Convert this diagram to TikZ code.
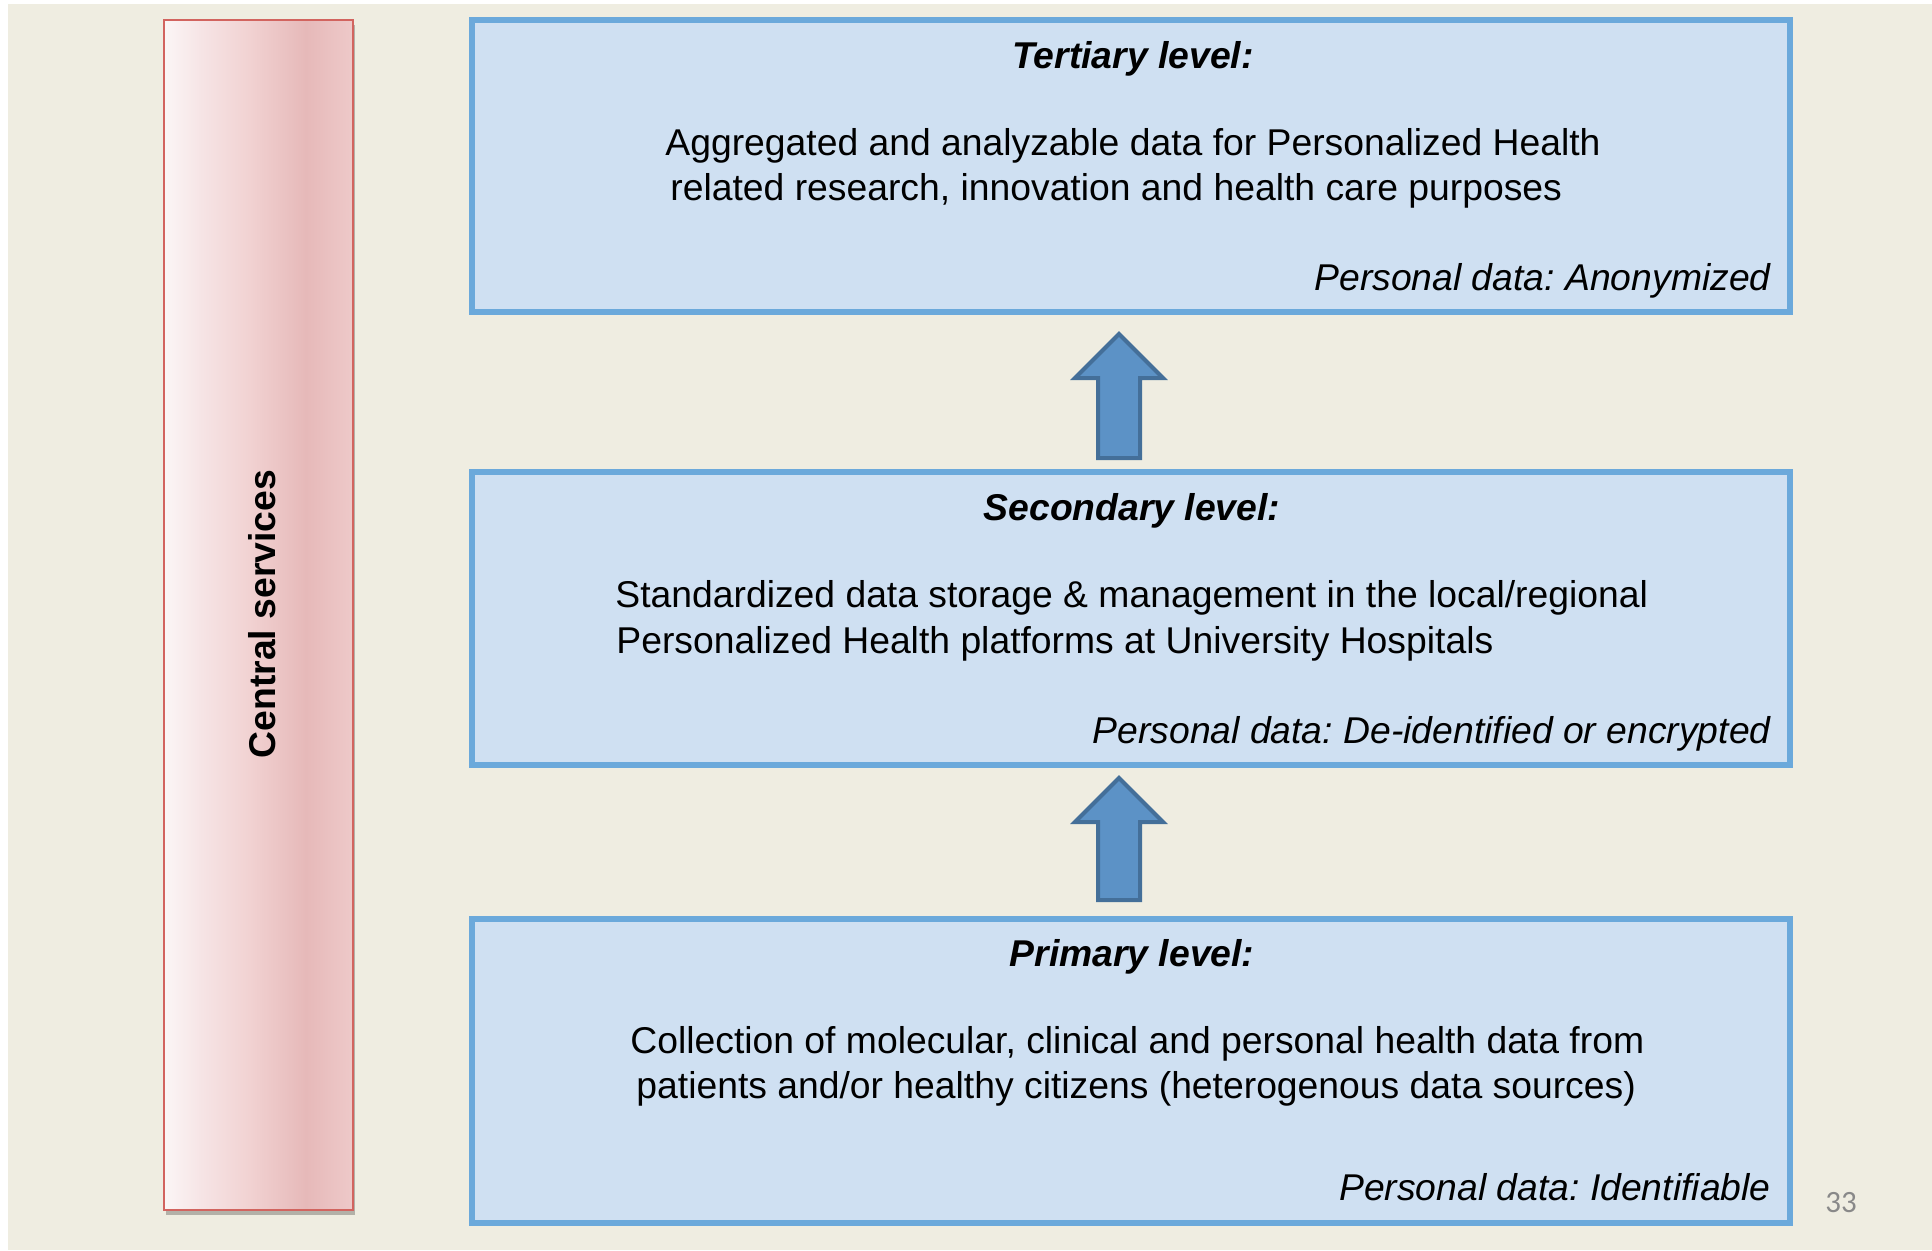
\documentclass[tikz,border=0pt]{standalone}
\usepackage{fontspec}
\setmainfont{Liberation Sans}
\newfontfamily\numfont{Carlito}
\usetikzlibrary{calc,shadows}
\frenchspacing

\definecolor{bgcream}{RGB}{239,237,225}
\definecolor{boxfill}{RGB}{207,224,242}
\definecolor{boxline}{RGB}{107,169,219}
\definecolor{arrowfill}{RGB}{92,146,198}
\definecolor{arrowline}{RGB}{68,111,153}
\definecolor{redline}{RGB}{210,100,95}
\definecolor{redA}{RGB}{251,246,246}
\definecolor{redB}{RGB}{246,228,229}
\definecolor{redC}{RGB}{241,210,210}
\definecolor{redD}{RGB}{230,185,185}
\definecolor{redE}{RGB}{238,201,201}
\definecolor{numgray}{RGB}{137,137,137}

% tikz fits the path into the middle 50bp of the shading
\pgfdeclarehorizontalshading{centralshade}{100bp}{color(0bp)=(redA); color(25bp)=(redA); color(35bp)=(redB); color(47.5bp)=(redC); color(62.5bp)=(redD); color(75bp)=(redE); color(100bp)=(redE)}

\tikzset{
	levelbox/.style={draw=boxline, fill=boxfill, line width=3pt, inner sep=0pt, minimum width=659pt},
	centralbox/.style={draw=redline, line width=0.8pt, shading=centralshade, inner sep=0pt,
		minimum width=94.5pt, minimum height=595pt,
		drop shadow={shadow xshift=1.2pt, shadow yshift=-2.5pt, fill=black, opacity=0.25}},
	bodytext/.style={font=\fontsize{18.65}{22.5}\selectfont, inner sep=0pt, anchor=base west},
	titletext/.style={font=\fontsize{18.65}{22.5}\selectfont\bfseries\itshape, inner sep=0pt, anchor=base},
	notetext/.style={font=\fontsize{18.65}{22.5}\selectfont\itshape, inner sep=0pt, anchor=base east},
	sidetext/.style={font=\fontsize{18.65}{22.5}\selectfont\bfseries, inner sep=0pt, anchor=base, rotate=90},
	pagenum/.style={font=\numfont\fontsize{15.5}{18}\selectfont, text=numgray, inner sep=0pt, anchor=base},
	blockarrow/.style={draw=arrowline, fill=arrowfill, line width=2pt, miter limit=10}
}

\newcommand{\upblock}[2]{%
	\draw[blockarrow] ($(#1)+(-21,0)$) -- ($(#2)+(-21,44)$) -- ($(#2)+(-44,44)$) -- (#2)
		-- ($(#2)+(44,44)$) -- ($(#2)+(21,44)$) -- ($(#1)+(21,0)$) -- cycle;}

\begin{document}
\begin{tikzpicture}[x=0.5pt,y=-0.5pt]
			\useasboundingbox (0,0) rectangle (1932,1250);
			\fill[white] (0,0) rectangle (1932,1250);
			\fill[bgcream] (8,4) rectangle (1932,1250);

			\node[centralbox] (central) at (258.5,615) {};
			\node[sidetext] (centraltext) at (275,614) {Central services};

			\node[levelbox, minimum height=146pt] (tert) at (1131,166) {};
			\node[levelbox, minimum height=146.5pt] (sec) at (1131,618.5) {};
			\node[levelbox, minimum height=152pt] (prim) at (1131,1071) {};

			\node[titletext] (terttitle) at (1133,68) {Tertiary level:};
			\node[bodytext] (tertA) at (665,155) {Aggregated and analyzable data for Personalized Health};
			\node[bodytext] (tertB) at (670,200) {related research, innovation and health care purposes};
			\node[notetext] (tertnote) at (1771,290) {Personal data: Anonymized};

			\node[titletext] (sectitle) at (1132,520) {Secondary level:};
			\node[bodytext] (secA) at (615,607) {Standardized data storage \& management in the local/regional};
			\node[bodytext] (secB) at (616,653) {Personalized Health platforms at University Hospitals};
			\node[notetext] (secnote) at (1771,743) {Personal data: De-identified or encrypted};

			\node[titletext] (primtitle) at (1132,966) {Primary level:};
			\node[bodytext] (primA) at (630,1053) {Collection of molecular, clinical and personal health data from};
			\node[bodytext] (primB) at (636,1098) {patients and/or healthy citizens (heterogenous data sources)};
			\node[notetext] (primnote) at (1771,1200) {Personal data: Identifiable};

			\coordinate (up1s) at ($(sec.north)+(-12,-11)$);
			\coordinate (up1t) at ($(tert.south)+(-12,19)$);
			\coordinate (up2s) at ($(prim.north)+(-12,-16)$);
			\coordinate (up2t) at ($(sec.south)+(-12,10)$);
			\upblock{up1s}{up1t}
			\upblock{up2s}{up2t}

			\node[pagenum] (pnum) at (1841,1212) {33};
			\end{tikzpicture}
\end{document}
